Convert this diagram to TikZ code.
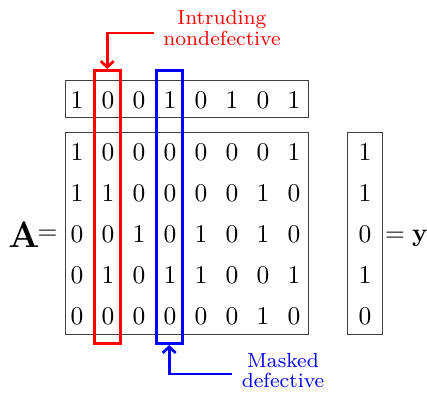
\documentclass[tikz,border=0pt]{standalone}
\usepackage{graphicx}
\usetikzlibrary{arrows.meta}
\definecolor{pureRed}{RGB}{255,0,0}
\definecolor{pureBlue}{RGB}{0,0,255}
% everything is typeset at normal size and enlarged by the same factor
\newcommand\enl[1]{\scalebox{2.55}{#1}}
\begin{document}
\begin{tikzpicture}[x=1pt,y=-1pt,
  digit/.style={inner sep=0pt},
  framebox/.style={draw=black!75,line width=0.9pt,inner sep=0pt},
  colbox/.style={draw=#1,line width=2.7pt,inner sep=0pt,minimum width=26pt,minimum height=273.4pt},
  callout/.style={draw=#1,line width=2.7pt,-{Straight Barb[length=6pt,width=13pt]}},
  lbl/.style={text=#1,inner sep=0pt}]
\useasboundingbox (0,0) rectangle (427,393);

% frames around the test row, the matrix and the outcome vector
\node[framebox,minimum width=243.3pt,minimum height=36.7pt] (row) at (186.7,99.3) {};
\node[framebox,minimum width=243.3pt,minimum height=201.7pt] (mat) at (186.7,233.2) {};
\node[framebox,minimum width=34.6pt,minimum height=201.7pt] (vec) at (365,233.2) {};

% test row
\foreach \v [count=\i from 0] in {1,0,0,1,0,1,0,1}
  \node[digit] (r\i) at (77+31*\i,100) {\enl{\v}};

% matrix entries
\foreach \rowvals [count=\j from 0] in {{1,0,0,0,0,0,0,1},{1,1,0,0,0,0,1,0},{0,0,1,0,1,0,1,0},{0,1,0,1,1,0,0,1},{0,0,0,0,0,0,1,0}}{
  \foreach \v [count=\i from 0] in \rowvals
    \node[digit] (m\j-\i) at (77+31*\i,152.5+41*\j) {\enl{\v}};
}

% outcome vector
\foreach \v [count=\j from 0] in {1,1,0,1,0}
  \node[digit] (y\j) at (365,152.5+41*\j) {\enl{\v}};

% left and right hand sides
\node[inner sep=0pt,anchor=base] (A) at (24,247) {\enl{\Large$\mathbf{A}$}};
\node[inner sep=0pt] (eqL) at (47.5,235) {\enl{$=$}};
\node[inner sep=0pt,anchor=base west] (eqR) at (385,241.5) {\enl{$=\mathbf{y}$}};

% highlighted columns
\node[colbox=pureRed] (redcol) at (107.2,207) {};
\node[colbox=pureBlue] (bluecol) at (169.2,207) {};

% labels and callouts
\node[lbl=pureRed] (redlbl) at (222,31)
  {\enl{\footnotesize\def\arraystretch{0.85}\begin{tabular}{@{}c@{}}Intruding\\nondefective\end{tabular}}};
\node[lbl=pureBlue] (bluelbl) at (283,373.5)
  {\enl{\footnotesize\def\arraystretch{0.85}\begin{tabular}{@{}c@{}}Masked\\defective\end{tabular}}};
\draw[callout=pureRed] ([xshift=-9pt,yshift=-2pt]redlbl.west) -| (redcol.north);
\draw[callout=pureBlue] ([xshift=-10pt,yshift=-0.5pt]bluelbl.west) -| (bluecol.south);
\end{tikzpicture}
\end{document}
